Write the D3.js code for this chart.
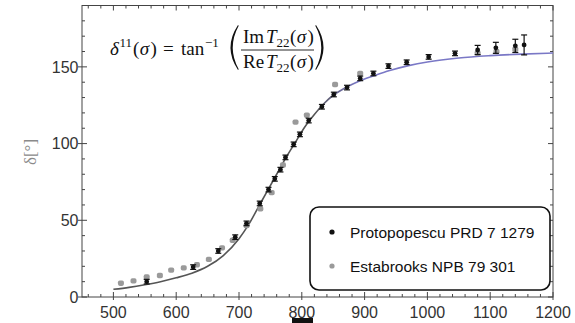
<!DOCTYPE html>
<html>
<head>
<meta charset="utf-8">
<script src="https://cdn.jsdelivr.net/npm/d3@7"></script>
<style>
  html, body { margin: 0; padding: 0; background: #fff; }
  svg { display: block; }
</style>
</head>
<body>
<svg id="chart" width="575" height="323"></svg>
<script>
// Phase shift delta^11 versus energy: fitted curve and two experimental sets
const curveMass  = [500, 525, 550, 575, 600, 625, 650, 675, 700, 715, 730, 745, 760, 775, 790, 805, 820, 835, 850, 870, 890, 915, 940, 970, 1000, 1050, 1100, 1150, 1200];
const curvePhase = [5, 6.3, 8, 10, 12.5, 15.5, 20, 27, 38, 47, 58, 69, 80, 91, 101, 111, 119, 126, 131.5, 136.5, 140.5, 144.2, 147.6, 150.8, 153.2, 155.8, 157.3, 158.3, 159];

const protoMass  = [553, 627, 667, 694, 712, 733, 747, 757, 766, 774, 787, 797, 811, 832, 851, 872, 893, 914, 938, 967, 1002, 1044, 1080, 1109, 1140, 1154];
const protoPhase = [10, 19.5, 30, 39, 48, 61, 70, 77, 83, 91, 99.5, 106, 115, 124, 132, 136.5, 142.5, 145.7, 150.5, 153, 156.5, 158.8, 161, 162.4, 163.7, 164.3];
const protoErr   = [1.5, 1.5, 1.5, 1.5, 1.5, 1.5, 1.5, 1.5, 1.5, 1.5, 1.5, 1.5, 1.5, 1.5, 1.5, 1.5, 1.5, 1.5, 1.5, 1.5, 1.5, 1.5, 3, 3.6, 4.3, 6.5];

const estMass  = [512, 532, 553, 574, 592, 612, 633, 652, 673, 690, 712, 734, 752, 770, 790, 808, 853, 893, 1080, 1110, 1140];
const estPhase = [9, 10.5, 13, 14, 17.5, 19, 21, 24.5, 32, 37, 46.5, 57.5, 68, 86, 114, 118.5, 138.5, 145.7, 159, 160, 161.5];

const xTicks = [500, 600, 700, 800, 900, 1000, 1100, 1200];
const yTicks = [0, 50, 100, 150];
const legendLabels = ["Protopopescu PRD 7 1279", "Estabrooks NPB 79 301"];

const svg = d3.select("#chart");
const plot = { left: 82, right: 553, top: 5.5, bottom: 297 };

const x = d3.scaleLinear().domain([450, 1200]).range([plot.left, plot.right]);
const y = d3.scaleLinear().domain([0, 190]).range([plot.bottom, plot.top]);

const frameColor = "#444";
const labelColor = "#333";

// gradient for the fit line: grey on the rising part, blue toward the plateau
const defs = svg.append("defs");
const grad = defs.append("linearGradient")
  .attr("id", "fitGrad").attr("gradientUnits", "userSpaceOnUse")
  .attr("x1", plot.left).attr("x2", plot.right).attr("y1", 0).attr("y2", 0);
grad.append("stop").attr("offset", (x(820) - plot.left) / (plot.right - plot.left)).attr("stop-color", "#555");
grad.append("stop").attr("offset", (x(890) - plot.left) / (plot.right - plot.left)).attr("stop-color", "#7a78c6");
grad.append("stop").attr("offset", 1).attr("stop-color", "#7a78c6");

// frame
svg.append("rect")
  .attr("x", plot.left).attr("y", plot.top)
  .attr("width", plot.right - plot.left).attr("height", plot.bottom - plot.top)
  .attr("fill", "none").attr("stroke", frameColor).attr("stroke-width", 1);

// ticks (major cross the frame on labelled sides, minor inside)
const ticksG = svg.append("g").attr("stroke", frameColor).attr("stroke-width", 1);
const xMinor = d3.range(460, 1201, 20).filter(v => v % 100 !== 0);
const yMinor = d3.range(10, 191, 10).filter(v => v % 50 !== 0);

xTicks.forEach(v => {
  ticksG.append("line").attr("x1", x(v)).attr("x2", x(v)).attr("y1", plot.bottom + 3).attr("y2", plot.bottom - 5);
  ticksG.append("line").attr("x1", x(v)).attr("x2", x(v)).attr("y1", plot.top).attr("y2", plot.top + 5);
});
xMinor.forEach(v => {
  ticksG.append("line").attr("x1", x(v)).attr("x2", x(v)).attr("y1", plot.bottom).attr("y2", plot.bottom - 3);
  ticksG.append("line").attr("x1", x(v)).attr("x2", x(v)).attr("y1", plot.top).attr("y2", plot.top + 3);
});
yTicks.forEach(v => {
  ticksG.append("line").attr("x1", plot.left - 4).attr("x2", plot.left + 5).attr("y1", y(v)).attr("y2", y(v));
  ticksG.append("line").attr("x1", plot.right).attr("x2", plot.right - 5).attr("y1", y(v)).attr("y2", y(v));
});
yMinor.forEach(v => {
  ticksG.append("line").attr("x1", plot.left).attr("x2", plot.left + 3).attr("y1", y(v)).attr("y2", y(v));
  ticksG.append("line").attr("x1", plot.right).attr("x2", plot.right - 3).attr("y1", y(v)).attr("y2", y(v));
});

// tick labels
svg.append("g").selectAll("text").data(xTicks).join("text")
  .attr("x", d => x(d)).attr("y", 317.5)
  .attr("text-anchor", "middle")
  .attr("font-family", "'Liberation Sans', Arial, sans-serif").attr("font-size", 16)
  .attr("fill", labelColor).text(d => d);
svg.append("g").selectAll("text").data(yTicks).join("text")
  .attr("x", 78.5).attr("y", d => y(d) + 5.8)
  .attr("text-anchor", "end")
  .attr("font-family", "'Liberation Sans', Arial, sans-serif").attr("font-size", 16)
  .attr("fill", labelColor).text(d => d);

// y axis title
svg.append("text")
  .attr("transform", "translate(36,152) rotate(-90)")
  .attr("text-anchor", "middle")
  .attr("font-family", "'Liberation Serif', 'Times New Roman', serif").attr("font-size", 17)
  .attr("fill", "#8a8a8a").text("δ[°]");

// partially visible axis label mark at the bottom edge
svg.append("rect").attr("x", 292).attr("y", 318).attr("width", 21).attr("height", 5).attr("fill", "#111");

// fitted curve
const curveData = curveMass.map((m, i) => [m, curvePhase[i]]);
svg.append("path")
  .datum(curveData)
  .attr("fill", "none").attr("stroke", "url(#fitGrad)").attr("stroke-width", 1.6)
  .attr("d", d3.line().x(d => x(d[0])).y(d => y(d[1])).curve(d3.curveMonotoneX));

// Estabrooks points (grey)
const estData = estMass.map((m, i) => ({ m, p: estPhase[i] }));
svg.append("g").selectAll("rect").data(estData).join("rect")
  .attr("x", d => x(d.m) - 3).attr("y", d => y(d.p) - 2.7)
  .attr("width", 6).attr("height", 5.4).attr("rx", 1.8)
  .attr("fill", "#9a9a9a");

// Protopopescu points (black) with error bars
const protoData = protoMass.map((m, i) => ({ m, p: protoPhase[i], e: protoErr[i] }));
const pg = svg.append("g");
protoData.forEach(d => {
  const cx = x(d.m), top = y(d.p + d.e), bot = y(d.p - d.e);
  pg.append("line").attr("x1", cx).attr("x2", cx).attr("y1", top).attr("y2", bot)
    .attr("stroke", "#111").attr("stroke-width", 1.2);
  pg.append("line").attr("x1", cx - 3).attr("x2", cx + 3).attr("y1", top).attr("y2", top)
    .attr("stroke", "#111").attr("stroke-width", 1.2);
  pg.append("line").attr("x1", cx - 3).attr("x2", cx + 3).attr("y1", bot).attr("y2", bot)
    .attr("stroke", "#111").attr("stroke-width", 1.2);
  pg.append("circle").attr("cx", cx).attr("cy", y(d.p)).attr("r", 2.4).attr("fill", "#111");
});

// formula: delta^11(sigma) = tan^-1( Im T22(sigma) / Re T22(sigma) )
const fF = "'Liberation Serif', 'Times New Roman', serif";
const fml = svg.append("g").attr("font-family", fF).attr("fill", "#111");
const base = 55, fs = 19, ss = 13;
function piece(xp, yp, str, size, italic) {
  fml.append("text").attr("x", xp).attr("y", yp).attr("font-size", size)
    .attr("font-style", italic ? "italic" : "normal").text(str);
}
piece(110, base, "δ", fs, true);
piece(119.5, base - 8, "11", ss, false);
piece(133, base, "(", fs, false);
piece(139.8, base, "σ", fs, true);
piece(150.5, base, ")", fs, false);
piece(163, base, "=", fs, false);
piece(181, base, "tan", fs, false);
piece(205, base - 8, "−1", ss, false);

// large delimiters around the fraction
fml.append("path").attr("d", "M238,25 Q223,47.5 238,70 L238.7,69.3 Q226.8,47.5 238.7,25.7 Z");
fml.append("path").attr("d", "M316,25 Q331,47.5 316,70 L315.3,69.3 Q327.2,47.5 315.3,25.7 Z");

function fracPart(yp, prefix) {
  const x0 = 243;
  piece(x0, yp, prefix, fs, false);
  piece(x0 + 23, yp, "T", fs, true);
  piece(x0 + 33.5, yp + 4, "22", ss, false);
  piece(x0 + 47, yp, "(", fs, false);
  piece(x0 + 53.8, yp, "σ", fs, true);
  piece(x0 + 64.5, yp, ")", fs, false);
}
fracPart(43, "Im");
fml.append("line").attr("x1", 241).attr("x2", 314).attr("y1", 50).attr("y2", 50)
  .attr("stroke", "#111").attr("stroke-width", 0.9);
fracPart(67.5, "Re");

// legend
const lg = svg.append("g");
lg.append("rect").attr("x", 310).attr("y", 207).attr("width", 240).attr("height", 83)
  .attr("rx", 9).attr("fill", "#fff").attr("stroke", "#111").attr("stroke-width", 1.6);
const legendColors = ["#111", "#9a9a9a"];
const legendY = [232, 266];
legendLabels.forEach((lab, i) => {
  lg.append("circle").attr("cx", 332).attr("cy", legendY[i]).attr("r", 2.6).attr("fill", legendColors[i]);
  lg.append("text").attr("x", 350).attr("y", legendY[i] + 5.5)
    .attr("font-family", "'Liberation Sans', Arial, sans-serif").attr("font-size", 15.5)
    .attr("fill", "#111").text(lab);
});
</script>
</body>
</html>
